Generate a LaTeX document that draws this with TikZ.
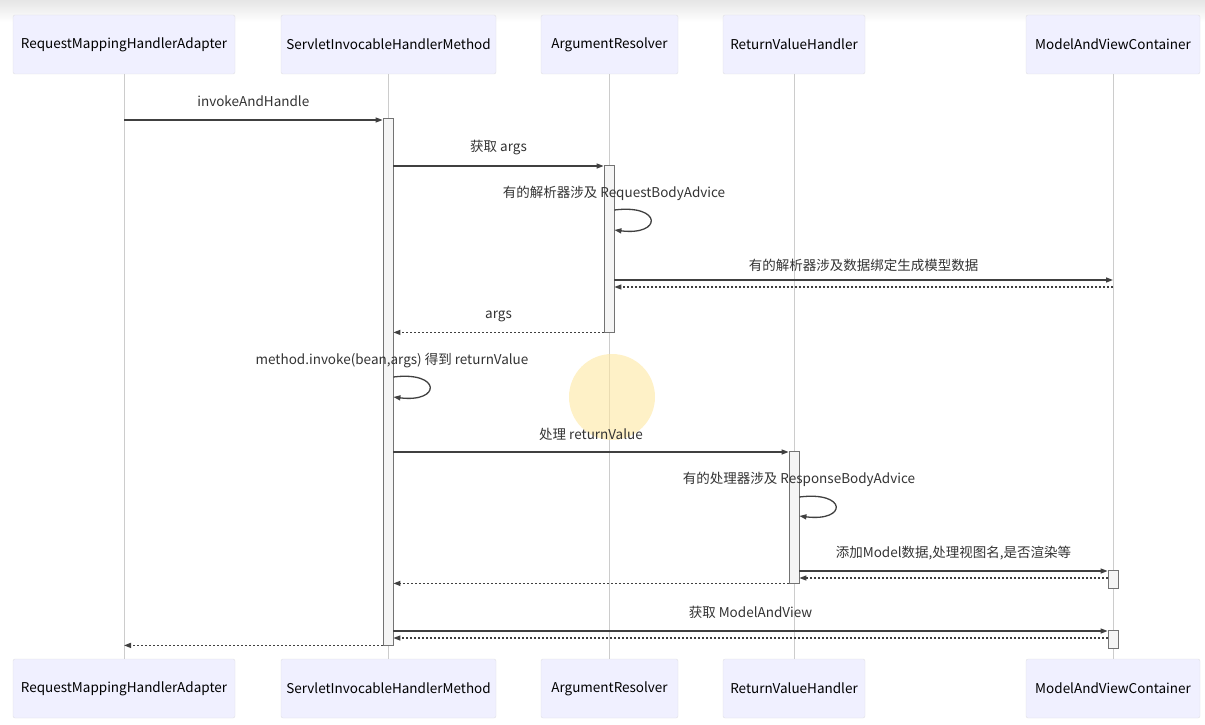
\documentclass[tikz,border=0pt]{standalone}
\usepackage{fontspec}
\setmainfont{Noto Sans CJK SC}
\usetikzlibrary{arrows.meta}

\begin{document}
\begin{tikzpicture}[x=1pt,y=-1pt,
    actor/.style={draw=actorline,fill=actorfill,rounded corners=2pt,
      minimum width=#1,minimum height=59pt,inner sep=0pt,font=\fontsize{13.5}{16}\selectfont},
    lifeline/.style={draw=black!20,line width=0.9pt},
    actbar/.style={draw=black!55,fill=black!4,minimum width=10pt,inner sep=0pt,line width=0.8pt},
    msg/.style={draw=black!75,line width=1.3pt,-{Triangle[length=7pt,width=5pt]}},
    reply/.style={msg,dash pattern=on 1.6pt off 2.4pt},
    lbl/.style={font=\fontsize{13.5}{16}\selectfont,text=black!80,inner sep=0pt}]
  \colorlet{actorfill}{blue!6!white}
  \colorlet{actorline}{blue!10!black!12}

  \useasboundingbox (0,0) rectangle (1205,725);
  \shade[top color=black!10,bottom color=white] (0,0) rectangle (1205,22);

  % participants, top and bottom, with their lifelines
  \foreach \name/\x/\w/\txt in {rmha/124/222/RequestMappingHandlerAdapter,
      sihm/388.5/215/ServletInvocableHandlerMethod,
      ar/609.5/137/ArgumentResolver,
      rvh/794/142/ReturnValueHandler,
      mavc/1113/174/ModelAndViewContainer}
  {
    \node[actor=\w] (\name-top) at (\x,44.5) {\txt};
    \node[actor=\w] (\name-bot) at (\x,688.5) {\txt};
    \draw[lifeline] (\name-top) -- (\name-bot);
  }

  % cursor highlight of the screenshot
  \fill[yellow!55!orange!35,opacity=0.6] (612,397) circle (43pt);

  % activations
  \node[actbar,minimum height=527pt] (act-sihm) at (388,381.5) {};
  \node[actbar,minimum height=167pt] (act-ar) at (609,248.5) {};
  \node[actbar,minimum height=132pt] (act-rvh) at (794,517) {};
  \node[actbar,minimum height=18pt] (act-mv1) at (1113,579) {};
  \node[actbar,minimum height=18pt] (act-mv2) at (1113,639) {};

  \draw[msg] (rmha-top |- 0,120) -- (act-sihm.west |- 0,120)
    node[lbl,midway,yshift=19pt] {invokeAndHandle};
  \draw[msg] (act-sihm.east |- 0,166) -- (act-ar.west |- 0,166)
    node[lbl,midway,yshift=18pt] {获取 args};
  \node[lbl] (l-rba) at (614,193) {有的解析器涉及 RequestBodyAdvice};
  \draw[msg] (act-ar.east |- 0,210) .. controls +(48,-6) and +(48,6) .. (act-ar.east |- 0,230);
  \draw[msg] (act-ar.east |- 0,280) -- (mavc-top |- 0,280)
    node[lbl,midway,yshift=15pt] {有的解析器涉及数据绑定生成模型数据};
  \draw[reply] (mavc-top |- 0,287) -- (act-ar.east |- 0,287);
  \draw[reply] (act-ar.south west) -- (act-sihm.east |- act-ar.south)
    node[lbl,midway,yshift=16pt] {args};
  \node[lbl] (l-invoke) at (392,361) {method.invoke(bean,args) 得到 returnValue};
  \draw[msg] (act-sihm.east |- 0,377) .. controls +(48,-6) and +(48,6) .. (act-sihm.east |- 0,397);
  \draw[msg] (act-sihm.east |- 0,452) -- (act-rvh.west |- 0,452)
    node[lbl,midway,yshift=18pt] {处理 returnValue};
  \node[lbl] (l-rsba) at (799,479) {有的处理器涉及 ResponseBodyAdvice};
  \draw[msg] (act-rvh.east |- 0,497) .. controls +(48,-6) and +(48,6) .. (act-rvh.east |- 0,516);
  \draw[msg] (act-rvh.east |- 0,571) -- (act-mv1.west |- 0,571)
    node[lbl,midway,yshift=18pt] {添加Model数据,处理视图名,是否渲染等};
  \draw[reply] (act-mv1.west |- 0,578) -- (act-rvh.east |- 0,578);
  \draw[reply] (act-rvh.south west) -- (act-sihm.east |- act-rvh.south);
  \draw[msg] (act-sihm.east |- 0,631) -- (act-mv2.west |- 0,631)
    node[lbl,midway,yshift=19pt] {获取 ModelAndView};
  \draw[reply] (act-mv2.west |- 0,638) -- (act-sihm.east |- 0,638);
  \draw[reply] (act-sihm.south west) -- (rmha-top |- act-sihm.south);
\end{tikzpicture}
\end{document}
